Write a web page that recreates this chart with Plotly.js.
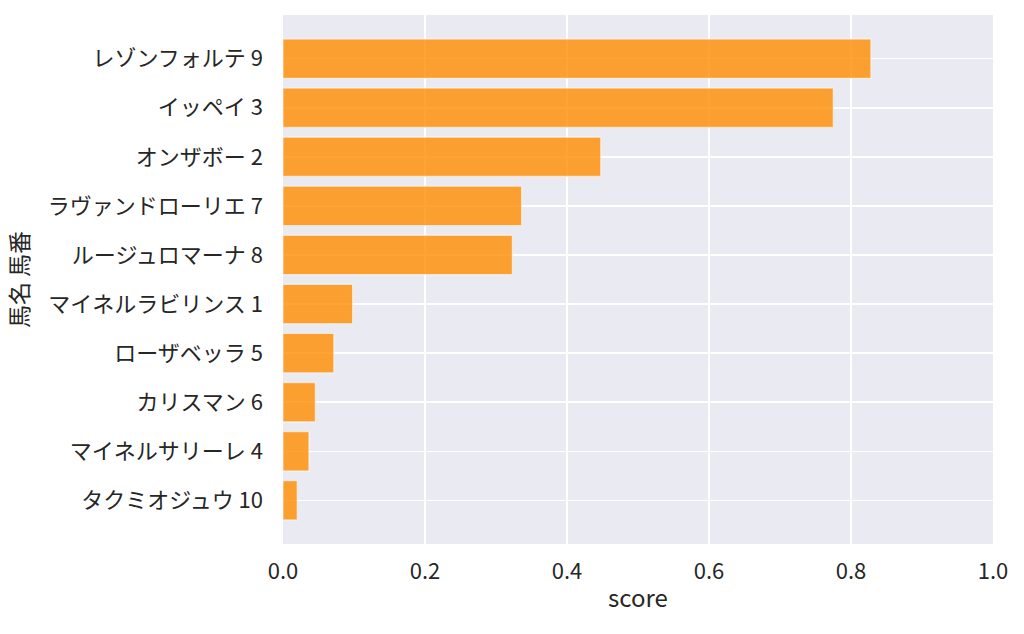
<!DOCTYPE html>
<html>
<head>
<meta charset="utf-8">
<script src="https://cdn.plot.ly/plotly-3.0.1.min.js"></script>
<style>
  html, body { margin: 0; padding: 0; background: #fff; }
  #chart { width: 1024px; height: 634px; }
</style>
</head>
<body>
<div id="chart"></div>
<script>
// horses, top to bottom
let horseNames = ["レゾンフォルテ 9", "イッペイ 3", "オンザボー 2", "ラヴァンドローリエ 7", "ルージュロマーナ 8",
                  "マイネルラビリンス 1", "ローザベッラ 5", "カリスマン 6", "マイネルサリーレ 4", "タクミオジュウ 10"];
let scores = [0.828, 0.775, 0.4475, 0.336, 0.323, 0.098, 0.0715, 0.0455, 0.0365, 0.020];
let xTicks = [0.0, 0.2, 0.4, 0.6, 0.8, 1.0];

let textColor = "#262626";
let fontFamily = "'Noto Sans CJK JP', 'Noto Sans', sans-serif";

let trace = {
    type: "bar",
    orientation: "h",
    x: scores,
    y: horseNames,
    width: 0.8,
    marker: {
        color: "rgba(255,140,0,0.8)",
        line: { color: "rgba(255,255,255,0.55)", width: 1.2 }
    },
    hoverinfo: "x+y"
};

let layout = {
    width: 1024,
    height: 634,
    margin: { l: 283, r: 31, t: 15, b: 90 },
    paper_bgcolor: "#ffffff",
    plot_bgcolor: "#EAEAF2",
    font: { family: fontFamily, color: textColor, size: 22 },
    showlegend: false,
    bargap: 0.2,
    xaxis: {
        range: [0, 1],
        tickvals: xTicks,
        ticktext: xTicks.map(v => v.toFixed(1)),
        showgrid: true,
        gridcolor: "#ffffff",
        gridwidth: 1.5,
        zeroline: false,
        showline: false,
        ticks: "",
        ticklabelstandoff: 12,
        tickfont: { size: 22, color: textColor },
        title: { text: "score", font: { size: 24, color: textColor }, standoff: 6 }
    },
    yaxis: {
        type: "category",
        range: [9.89, -0.89],
        showgrid: true,
        gridcolor: "#ffffff",
        gridwidth: 1.5,
        zeroline: false,
        showline: false,
        ticks: "",
        ticklabelstandoff: 19,
        tickfont: { size: 22, color: textColor },
        title: { text: "馬名 馬番", font: { size: 23, color: textColor }, standoff: 12 }
    }
};

Plotly.newPlot("chart", [trace], layout, { displayModeBar: false, staticPlot: true });
</script>
</body>
</html>
